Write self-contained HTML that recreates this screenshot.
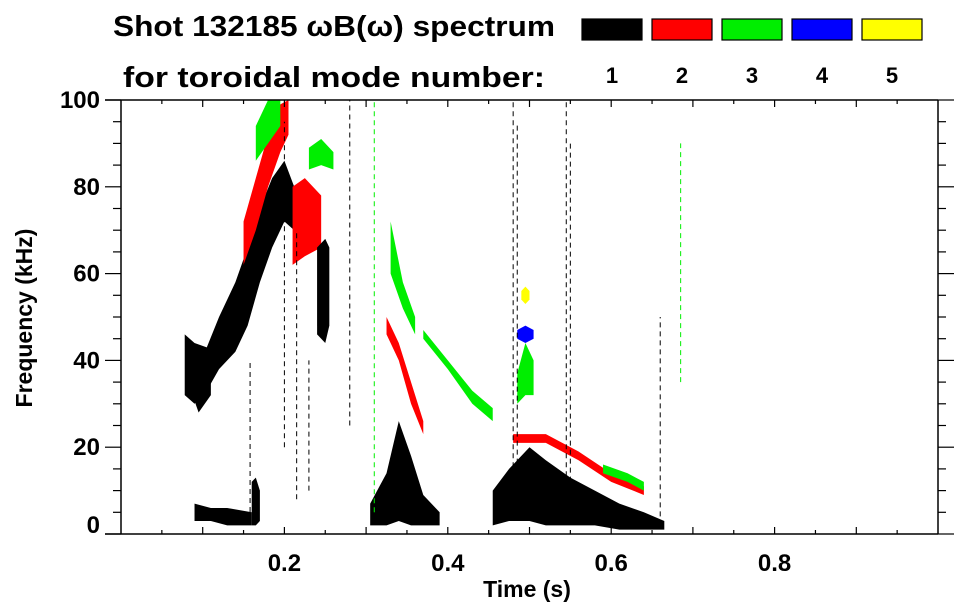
<!DOCTYPE html>
<html><head><meta charset="utf-8">
<style>
html,body{margin:0;padding:0;background:#fff;}
svg{display:block;font-family:"Liberation Sans",sans-serif;font-weight:bold;}
</style></head>
<body>
<svg id="chart" width="963" height="615" viewBox="0 0 963 615" xmlns="http://www.w3.org/2000/svg">
<text x="113" y="36" font-size="29" textLength="442" lengthAdjust="spacingAndGlyphs">Shot 132185 ωB(ω) spectrum</text>
<text x="123" y="87" font-size="29" textLength="422" lengthAdjust="spacingAndGlyphs">for toroidal mode number:</text>
<g id="legend"></g>
<g id="marks"></g>
<g id="axes"></g>
<text x="527" y="597" font-size="23" text-anchor="middle">Time (s)</text>
<text transform="translate(32,318) rotate(-90)" font-size="23" text-anchor="middle">Frequency (kHz)</text>
</svg>
<script>
const modeLabels = ["1","2","3","4","5"];
const modeColors = ["#000000","#ff0000","#00ee00","#0000ff","#ffff00"];
const xTicks = [0.2,0.4,0.6,0.8];
const yTicks = [0,20,40,60,80,100];
// bands: [mode, [[t, fLow, fHigh], ...]]
const bandMode = [0,0,0,0,0, 1,1,1,1, 2,2,2,2,2,2, 3,4, 0,0];
const bandPoints = [
 [[0.078,32,46],[0.09,30,44],[0.105,33,43],[0.12,38,50],[0.14,42,58],[0.155,48,66],[0.17,58,75],[0.185,66,82],[0.2,72,86],[0.212,70,80]],
 [[0.09,3,7],[0.11,3,6],[0.13,2,6],[0.16,2,5]],
 [[0.305,2,7],[0.325,2,14],[0.34,3,26],[0.355,2,18],[0.37,2,9],[0.39,2,5]],
 [[0.455,2,10],[0.475,3,15],[0.5,3,20],[0.52,2,17],[0.55,2,13],[0.58,2,10],[0.61,1,7],[0.64,1,5],[0.665,1,3]],
 [[0.16,2,12],[0.165,2,13],[0.17,3,10]],
 [[0.15,62,72],[0.165,70,82],[0.18,80,92],[0.195,88,99],[0.205,92,100]],
 [[0.21,62,80],[0.225,64,82],[0.245,66,78]],
 [[0.325,46,50],[0.34,40,44],[0.355,30,35],[0.37,23,26]],
 [[0.48,21,23],[0.52,21,23],[0.56,17,19],[0.6,12,14],[0.64,9,11]],
 [[0.165,86,94],[0.18,90,100],[0.195,94,100]],
 [[0.23,84,89],[0.245,85,91],[0.26,84,88]],
 [[0.33,60,72],[0.345,52,58],[0.36,46,50]],
 [[0.37,45,47],[0.4,38,40],[0.43,30,33],[0.455,26,29]],
 [[0.485,30,37],[0.495,32,44],[0.505,32,40]],
 [[0.59,14,16],[0.62,12,14],[0.64,10,12]],
 [[0.485,45,47],[0.495,44,48],[0.505,45,47]],
 [[0.49,54,56],[0.495,53,57],[0.5,54,56]],
 [[0.08,36,44],[0.095,28,40],[0.11,32,40]],
 [[0.24,46,66],[0.25,44,68],[0.255,48,66]]
];
// vertical streaks: time, fLow, fHigh
const streakT = [0.158,0.2,0.215,0.23,0.28,0.31,0.48,0.485,0.545,0.55,0.66,0.685];
const streakLo = [3,20,8,10,25,5,5,10,5,10,2,35];
const streakHi = [40,95,70,40,100,100,100,95,100,90,50,90];
const streakMode = [0,0,0,0,0,2,0,0,0,0,0,2];

const L=121,R=938,T=100,B=534;
const xs=t=>L+t*(R-L);
const ys=f=>B-f/100*(B-T);
const NS="http://www.w3.org/2000/svg";
function mk(tag,attrs,parent){const e=document.createElementNS(NS,tag);for(const k in attrs)e.setAttribute(k,attrs[k]);parent.appendChild(e);return e;}
const marks=document.getElementById('marks');
bandPoints.forEach((pts,i)=>{
  const up=pts.map(p=>xs(p[0])+','+ys(p[2]));
  const dn=pts.slice().reverse().map(p=>xs(p[0])+','+ys(p[1]));
  const el=mk('polygon',{points:up.concat(dn).join(' '),fill:modeColors[bandMode[i]]},marks);
  
  
});
streakT.forEach((t,i)=>{
  const el=mk('line',{x1:xs(t),x2:xs(t),y1:ys(streakLo[i]),y2:ys(streakHi[i]),stroke:modeColors[streakMode[i]],'stroke-width':1,'stroke-dasharray':'5 4'},marks);
  
  
});
const axes=document.getElementById('axes');
mk('line',{x1:105,x2:R,y1:T,y2:T,stroke:'#000','stroke-width':1.5},axes);
mk('line',{x1:105,x2:R,y1:B,y2:B,stroke:'#000','stroke-width':1.5},axes);
mk('line',{x1:L,x2:L,y1:T,y2:B,stroke:'#000','stroke-width':1.5},axes);
mk('line',{x1:R,x2:R,y1:T,y2:B,stroke:'#000','stroke-width':1.5},axes);
for(let f=0;f<=100;f+=5){
  const major=f%20===0, len=major?16:8;
  mk('line',{x1:L-len,x2:L,y1:ys(f),y2:ys(f),stroke:'#000','stroke-width':1.2},axes);
  mk('line',{x1:R,x2:R+len,y1:ys(f),y2:ys(f),stroke:'#000','stroke-width':1.2},axes);
}
for(let k=1;k<20;k++){
  const t=k*0.05, len=k%2===0?7:4;
  mk('line',{x1:xs(t),x2:xs(t),y1:B,y2:B-len,stroke:'#000','stroke-width':1.2},axes);
  mk('line',{x1:xs(t),x2:xs(t),y1:T,y2:T+len,stroke:'#000','stroke-width':1.2},axes);
}
xTicks.forEach(t=>{
  const el=mk('text',{x:xs(t),y:571,'font-size':24,'text-anchor':'middle'},axes);
  el.textContent=t.toFixed(1);
  
  
});
yTicks.forEach(f=>{
  const el=mk('text',{x:100,y:ys(f)+8-(f===0?9:0),'font-size':24,'text-anchor':'end'},axes);
  el.textContent=f;
  
  
});
const lg=document.getElementById('legend');
modeLabels.forEach((m,i)=>{
  const x=582+i*70;
  const r=mk('rect',{x:x,y:19,width:60,height:21,fill:modeColors[i],stroke:'#000','stroke-width':1.2},lg);
  
  
  const t=mk('text',{x:x+30,y:83,'font-size':22,'text-anchor':'middle'},lg);
  t.textContent=m;
  
  
});
</script>
</body></html>
